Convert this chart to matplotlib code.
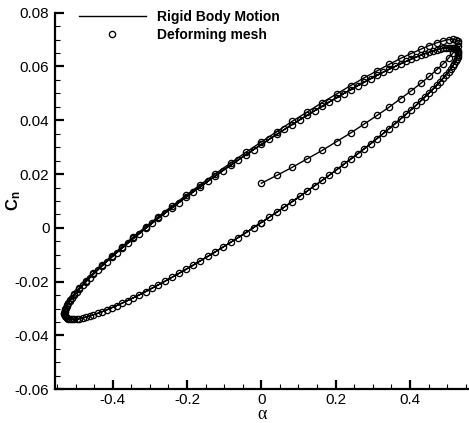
import matplotlib
matplotlib.use("Agg")
import matplotlib.pyplot as plt
from matplotlib.ticker import MultipleLocator, FormatStrFormatter

plt.rcParams['font.family'] = ['Liberation Sans', 'DejaVu Sans']
plt.rcParams['axes.unicode_minus'] = False
plt.rcParams['mathtext.fontset'] = 'custom'
plt.rcParams['mathtext.rm'] = 'Liberation Sans'
plt.rcParams['mathtext.bf'] = 'Liberation Sans:bold'

# ---- data ----
# cycle 0: start-up ramp from alpha = 0, first upper branch, left half of first lower branch
alpha_c0 = [0.0, .0416, .0829, .1237, .1638, .2028, .2406, .2769, .3115, .3442, .3748, .4030, .4288, .4519, .4722, .4897, .5041, .5154, .5235, .5284, .5300,
            .5284, .5235, .5154, .5041, .4897, .4722, .4519, .4288, .4030, .3748, .3442, .3115, .2769, .2406, .2028, .1638, .1237, .0829, .0416, 0.0,
            -.0416, -.0829, -.1237, -.1638, -.2028, -.2406, -.2769, -.3115, -.3442, -.3748, -.4030, -.4288, -.4519, -.4722, -.4897, -.5041, -.5154, -.5235, -.5284, -.5300,
            -.5284, -.5235, -.5154, -.5041, -.4897, -.4722, -.4519, -.4288, -.4030, -.3748, -.3442, -.3115, -.2769, -.2406, -.2028, -.1638, -.1237, -.0829, -.0416, 0.0]
cn_c0 = [.0166, .0195, .0225, .0257, .0288, .0321, .0353, .0386, .0418, .0449, .0480, .0509, .0537, .0563, .0588, .0610, .0631, .0649, .0664, .0677, .0688,
         .0695, .0699, .0701, .0700, .0695, .0688, .0678, .0664, .0648, .0630, .0608, .0584, .0558, .0529, .0498, .0466, .0431, .0396, .0358, .0320,
         .0281, .0241, .0201, .0161, .0121, .0081, .0042, .0004, -.0033, -.0070, -.0104, -.0137, -.0168, -.0196, -.0223, -.0247, -.0268, -.0287, -.0303, -.0316,
         -.0329, -.0336, -.0339, -.0340, -.0338, -.0332, -.0323, -.0312, -.0297, -.0280, -.0260, -.0237, -.0212, -.0184, -.0154, -.0122, -.0089, -.0054, -.0018, .0020]

# cycle 1: periodic loop, samples interleaved with cycle 0 / cycle 2
alpha_c1 = [.0208, .0623, .1034, .1439, .1834, .2219, .2590, .2945, .3281, .3598, .3892, .4162, .4407, .4624, .4813, .4972, .5101, .5198, .5263, .5296,
            .5296, .5263, .5198, .5101, .4972, .4813, .4624, .4407, .4162, .3892, .3598, .3281, .2945, .2590, .2219, .1834, .1439, .1034, .0623, .0208,
            -.0208, -.0623, -.1034, -.1439, -.1834, -.2219, -.2590, -.2945, -.3281, -.3598, -.3892, -.4162, -.4407, -.4624, -.4813, -.4972, -.5101, -.5198, -.5263, -.5296,
            -.5296, -.5263, -.5198, -.5101, -.4972, -.4813, -.4624, -.4407, -.4162, -.3892, -.3598, -.3281, -.2945, -.2590, -.2219, -.1834, -.1439, -.1034, -.0623, -.0208]
cn_c1 = [.0039, .0078, .0117, .0157, .0196, .0236, .0275, .0313, .0351, .0387, .0422, .0455, .0487, .0516, .0544, .0569, .0591, .0611, .0629, .0643,
         .0654, .0663, .0668, .0670, .0669, .0665, .0658, .0648, .0635, .0619, .0600, .0579, .0554, .0528, .0499, .0469, .0436, .0402, .0366, .0329,
         .0291, .0252, .0213, .0173, .0134, .0094, .0055, .0017, -.0021, -.0057, -.0092, -.0125, -.0157, -.0186, -.0214, -.0239, -.0261, -.0281, -.0299, -.0313,
         -.0324, -.0333, -.0338, -.0340, -.0339, -.0335, -.0328, -.0318, -.0305, -.0289, -.0270, -.0249, -.0224, -.0198, -.0169, -.0139, -.0106, -.0072, -.0036, .0001]

# cycle 2: periodic loop up to the left tip
alpha_c2 = [0.0, .0416, .0829, .1237, .1638, .2028, .2406, .2769, .3115, .3442, .3748, .4030, .4288, .4519, .4722, .4897, .5041, .5154, .5235, .5284, .5300,
            .5284, .5235, .5154, .5041, .4897, .4722, .4519, .4288, .4030, .3748, .3442, .3115, .2769, .2406, .2028, .1638, .1237, .0829, .0416, 0.0,
            -.0416, -.0829, -.1237, -.1638, -.2028, -.2406, -.2769, -.3115, -.3442, -.3748, -.4030, -.4288, -.4519, -.4722, -.4897, -.5041, -.5154, -.5235, -.5284, -.5300]
cn_c2 = [.0020, .0058, .0097, .0137, .0177, .0216, .0256, .0294, .0332, .0369, .0405, .0439, .0471, .0502, .0530, .0557, .0581, .0602, .0620, .0636, .0649,
         .0659, .0666, .0669, .0670, .0668, .0662, .0653, .0642, .0627, .0610, .0590, .0567, .0542, .0514, .0484, .0452, .0419, .0384, .0348, .0310,
         .0272, .0233, .0193, .0153, .0114, .0074, .0036, -.0002, -.0039, -.0075, -.0109, -.0141, -.0172, -.0200, -.0227, -.0251, -.0272, -.0290, -.0306, -.0319]

alpha = alpha_c0 + alpha_c1 + alpha_c2
cn_deforming = cn_c0 + cn_c1 + cn_c2
cn_rigid = cn_c0 + cn_c1 + cn_c2   # the two solutions coincide within a pixel

xticks = [-0.4, -0.2, 0, 0.2, 0.4]
yticks = [-0.06, -0.04, -0.02, 0, 0.02, 0.04, 0.06, 0.08]

# ---- figure ----
fig = plt.figure(figsize=(4.69, 4.23), dpi=100)
ax = fig.add_axes([0.1173, 0.0797, 0.8827, 0.8903])

ax.plot(alpha, cn_rigid, color='black', lw=1.0, label='Rigid Body Motion', zorder=2)
ax.plot(alpha, cn_deforming, ls='none', marker='o', ms=4.5, mfc='none', mec='black',
        mew=0.95, label='Deforming mesh', zorder=3)

ax.set_xlim(-0.5553, 0.559)
ax.set_ylim(-0.06, 0.08)
ax.set_xticks(xticks)
ax.set_yticks(yticks)
ax.xaxis.set_minor_locator(MultipleLocator(0.05))
ax.yaxis.set_minor_locator(MultipleLocator(0.005))
ax.xaxis.set_major_formatter(FormatStrFormatter('%g'))
ax.yaxis.set_major_formatter(FormatStrFormatter('%g'))

for s in ['top', 'right']:
    ax.spines[s].set_visible(False)
for s in ['left', 'bottom']:
    ax.spines[s].set_linewidth(1.6)

ax.tick_params(which='major', direction='in', length=6.5, width=1.6, labelsize=11, pad=3)
ax.tick_params(which='minor', direction='in', length=3.8, width=0.8)
ax.tick_params(axis='y', which='major', pad=4)

ax.set_xlabel('α', family=['Liberation Serif', 'DejaVu Serif'], fontsize=13, labelpad=-1)
ax.set_ylabel(r'$\mathbf{C_n}$', fontsize=12)
ax.yaxis.set_label_coords(-0.078, 0.5)

leg = ax.legend(loc='upper left', bbox_to_anchor=(79 / 469, 1 - 10 / 423),
                bbox_transform=fig.transFigure, frameon=False,
                prop={'weight': 'bold', 'size': 10}, handlelength=4.8,
                handletextpad=0.8, labelspacing=0.3, borderpad=0, borderaxespad=0)

fig.savefig('out.png', dpi=100)
